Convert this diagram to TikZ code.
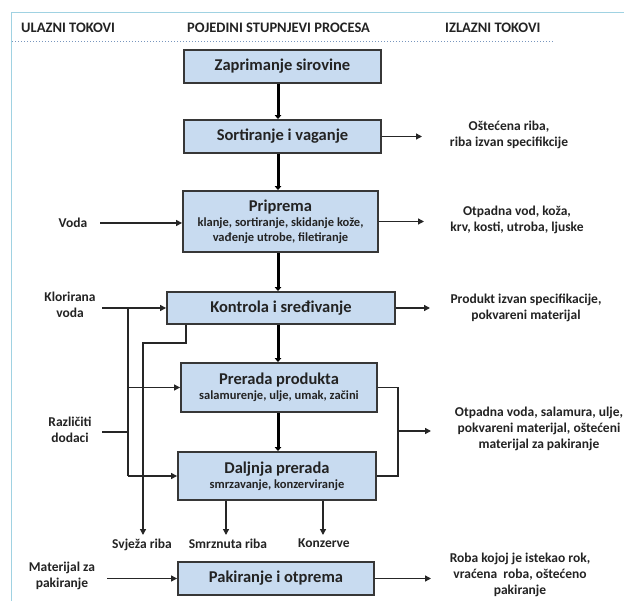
\documentclass[tikz,border=0pt]{standalone}
\usepackage{fontspec}
\setmainfont{Carlito}
\usetikzlibrary{arrows.meta}
\definecolor{boxfill}{RGB}{200,219,240}
\definecolor{boxdraw}{RGB}{55,55,55}
\definecolor{frameblue}{RGB}{160,210,226}
\definecolor{dotblue}{RGB}{120,150,190}
\definecolor{txt}{RGB}{35,35,35}
\begin{document}
\begin{tikzpicture}[x=1pt,y=-1pt,
  proc/.style={draw=boxdraw, fill=boxfill, line width=1.9pt, inner sep=0pt, align=center, text=txt, font=\bfseries\fontsize{16.5}{18}\selectfont},
  lbl/.style={align=center, text=txt, font=\bfseries\fontsize{13.5}{16}\selectfont, inner sep=0pt},
  hdr/.style={text=txt, font=\bfseries\fontsize{14.5}{16}\selectfont, inner sep=0pt, anchor=west},
  mainflow/.style={line width=3pt, draw=black, -{Triangle[length=4pt,width=6.5pt]}},
  flow/.style={line width=1.3pt, draw=black!85, -{Triangle[length=6pt,width=6pt]}},
  link/.style={line width=1.3pt, draw=black!85}
]
\newcommand{\subtxt}{\fontsize{12.5}{14}\selectfont}
\useasboundingbox (0,0) rectangle (624,601);
\fill[white] (0,0) rectangle (624,601);
% frame and header
\draw[frameblue, line width=1pt] (11,601) -- (11,13) -- (624,13);
\draw[dotblue, line width=1pt, dotted] (12,42) -- (554,42);
\node[hdr] (h1) at (21,28) {ULAZNI TOKOVI};
\node[hdr] (h2) at (187,28) {POJEDINI STUPNJEVI PROCESA};
\node[hdr] (h3) at (445,28) {IZLAZNI TOKOVI};

% process boxes
\node[proc, minimum width=197pt, minimum height=33pt] (zap) at (282.5,66.5) {Zaprimanje sirovine};
\node[proc, minimum width=197pt, minimum height=33pt] (sort) at (282.5,136.5) {Sortiranje i vaganje};
\node[proc, minimum width=195pt, minimum height=61pt] (prip) at (280.5,221.5) {Priprema\\[-3pt]{\subtxt klanje, sortiranje, skidanje kože,}\\[-3pt]{\subtxt vađenje utrobe, filetiranje}};
\node[proc, minimum width=228pt, minimum height=32pt] (kon) at (281,308) {Kontrola i sređivanje};
\node[proc, minimum width=196pt, minimum height=49pt] (prer) at (279,387.5) {Prerada produkta\\[-3pt]{\subtxt salamurenje, ulje, umak, začini}};
\node[proc, minimum width=198pt, minimum height=48pt] (dalj) at (277,476) {Daljnja prerada\\[-3pt]{\subtxt smrzavanje, konzerviranje}};
\node[proc, minimum width=196pt, minimum height=33pt] (pak) at (276,578.5) {Pakiranje i otprema};

% input labels
\node[lbl] (in1) at (73,223) {Voda};
\node[lbl] (in2) at (70,305) {Klorirana\\voda};
\node[lbl] (in3) at (70,430) {Različiti\\dodaci};
\node[lbl] (in4) at (62,576) {Materijal za\\pakiranje};

% output labels
\node[lbl] (o1) at (509,135) {Oštećena riba,\\riba izvan specifikcije};
\node[lbl] (o2) at (517,220) {Otpadna vod, koža,\\krv, kosti, utroba, ljuske};
\node[lbl] (o3) at (526,308) {Produkt izvan specifikacije,\\pokvareni materijal};
\node[lbl] (o4) at (539,429) {Otpadna voda, salamura, ulje,\\pokvareni materijal, oštećeni\\materijal za pakiranje};
\node[lbl] (o5) at (520,575) {Roba kojoj je istekao rok,\\vraćena\ \ roba, oštećeno\\pakiranje};

% product labels
\node[lbl, anchor=north] (f1) at (142,539) {Svježa riba};
\node[lbl, anchor=north] (f2) at (228,539) {Smrznuta riba};
\node[lbl, anchor=north] (f3) at (324,539) {Konzerve};

% helper coordinates
\coordinate (mx) at (278,0);
\coordinate (vx) at (128,0);
\coordinate (rx) at (398,0);
\coordinate (s0) at (186,0);
\coordinate (a1) at (100,223);
\coordinate (a2) at (102,308);
\coordinate (a3) at (102,432);
\coordinate (a4) at (107,578.5);
\coordinate (e1) at (422,136.5);
\coordinate (e2) at (424,221.5);
\coordinate (e3) at (430,308);
\coordinate (e4) at (431,431);
\coordinate (e5) at (431,578.5);
\coordinate (bend) at (143,343);
\coordinate (sv) at (143,535);
\coordinate (c2) at (226,535);
\coordinate (c3) at (323,535);

% main flow
\draw[mainflow] (zap.south -| mx) -- (sort.north -| mx);
\draw[mainflow] (sort.south -| mx) -- (prip.north -| mx);
\draw[mainflow] (prip.south -| mx) -- (kon.north -| mx);
\draw[mainflow] (kon.south -| mx) -- (prer.north -| mx);
\draw[mainflow] (prer.south -| mx) -- (dalj.north -| mx);

% inputs
\draw[flow] (a1) -- (prip.west |- a1);
\draw[flow] (a2) -- (kon.west);
\draw[link] (vx |- a2) -- (vx |- dalj.west);
\draw[flow] (vx |- prer.west) -- (prer.west);
\draw[flow] (vx |- dalj.west) -- (dalj.west);
\draw[link] (a3) -- (vx |- a3);
\draw[flow] (a4) -- (pak.west);

% outputs
\draw[flow] (sort.east) -- (e1);
\draw[flow] (prip.east) -- (e2);
\draw[flow] (kon.east) -- (e3);
\draw[link] (prer.east) -| (rx |- dalj.east) -- (dalj.east);
\draw[flow] (rx |- e4) -- (e4);
\draw[flow] (pak.east) -- (e5);

% products
\draw[flow] (kon.south -| s0) |- (bend) -- (sv);
\draw[flow] (dalj.south -| c2) -- (c2);
\draw[flow] (dalj.south -| c3) -- (c3);
\end{tikzpicture}
\end{document}
